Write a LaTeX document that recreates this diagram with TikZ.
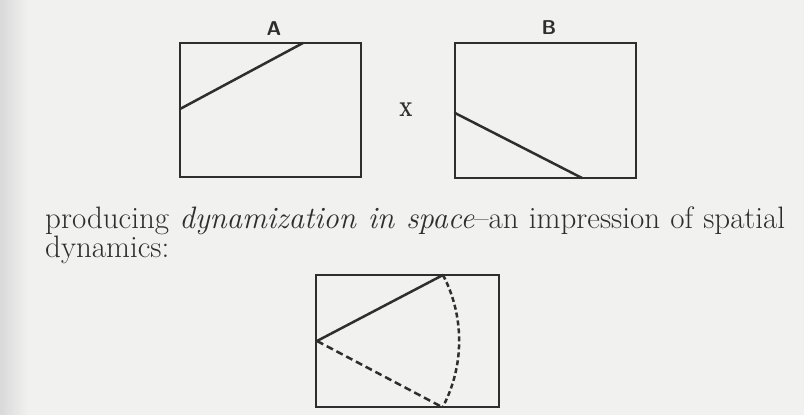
\documentclass[tikz,border=0pt]{standalone}
\usepackage{amsmath, amsfonts, amssymb}
\usepackage{xcolor}
\definecolor{paper}{HTML}{F1F1F0}
\definecolor{ink}{HTML}{2E2E2E}

\begin{document}
\begin{tikzpicture}[x=1pt, y=-1pt,
        frame/.style={line width=2.8pt, draw=ink},
        cut/.style={line width=2.5pt, draw=ink, line cap=round},
        swing/.style={line width=2.5pt, draw=ink, dash pattern=on 7pt off 4pt},
        shotlabel/.style={font=\sffamily\bfseries\fontsize{20}{20}\selectfont, text=ink, inner sep=0pt},
        bodytext/.style={font=\fontsize{31}{33}\selectfont, text=ink, inner sep=0pt, anchor=base west}]
        % Tlo strony
        \fill[paper] (0,0) rectangle (804,415);
        \shade[left color=gray!30, right color=paper] (0,0) rectangle (28,415);
        \useasboundingbox (0,0) rectangle (804,415);

        % Kadr A
        \draw[frame] (180,43) rectangle (361,177);
        \coordinate (a1) at (180,109);
        \coordinate (a2) at (303,43);
        \draw[cut] (a1) -- (a2);
        \node[shotlabel] (labA) at (274,29) {A};

        % Kadr B
        \draw[frame] (455,43) rectangle (636,178);
        \coordinate (b1) at (455,113);
        \coordinate (b2) at (582,178);
        \draw[cut] (b1) -- (b2);
        \node[shotlabel] (labB) at (549,28) {B};

        % Znak miedzy kadrami
        \node[shotlabel, font=\bfseries\fontsize{22}{22}\selectfont, yscale=1.4] (times) at (406,110) {x};

        % Tekst
        \node[bodytext] (line1) at (45,228)
            {\makebox[740pt][s]{producing \textit{dynamization in space}--an impression of spatial}};
        \node[bodytext] (line2) at (45,257) {dynamics:};

        % Kadr wynikowy
        \draw[frame] (316,275) rectangle (499,407);
        \coordinate (c0) at (317,341);
        \coordinate (c1) at (443,275);
        \coordinate (c2) at (442,407);
        \draw[cut] (c0) -- (c1);
        \draw[swing] (c0) -- (c2);
        \draw[swing, dash pattern=on 5pt off 3pt] (c1) arc[start angle=-27.6, end angle=27.8, radius=142];
    \end{tikzpicture}
\end{document}
